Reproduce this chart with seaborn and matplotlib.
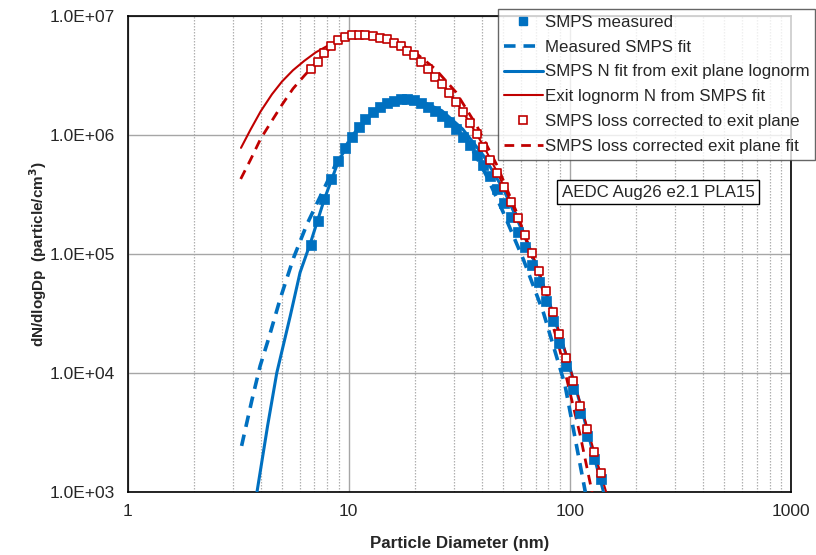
import numpy as np
import pandas as pd
import matplotlib
matplotlib.use("Agg")
import matplotlib.pyplot as plt
from matplotlib.ticker import LogLocator, FuncFormatter, NullLocator
from matplotlib.lines import Line2D
import seaborn as sns

# ---------------- data ----------------
diam = [6.73, 7.23, 7.77, 8.35, 8.98, 9.65, 10.4, 11.1, 11.9, 12.9, 13.8, 14.9,
        16.0, 17.2, 18.4, 19.8, 21.3, 22.9, 24.6, 26.4, 28.4, 30.5, 32.8, 35.2,
        37.9, 40.7, 43.7, 47.0, 50.5, 54.2, 58.3, 62.6, 67.3, 72.3, 77.7, 83.5,
        89.8, 96.5, 103.7, 111.4, 119.7, 128.6, 138.2]

smps_measured = [1.20e5, 1.89e5, 2.90e5, 4.27e5, 6.01e5, 7.78e5, 9.68e5, 1.17e6,
                 1.36e6, 1.55e6, 1.71e6, 1.85e6, 1.94e6, 2.00e6, 2.00e6, 1.97e6,
                 1.87e6, 1.73e6, 1.60e6, 1.44e6, 1.29e6, 1.12e6, 9.68e5, 8.19e5,
                 6.75e5, 5.56e5, 4.48e5, 3.50e5, 2.70e5, 2.05e5, 1.53e5, 1.14e5,
                 8.08e4, 5.79e4, 4.05e4, 2.73e4, 1.80e4, 1.15e4, 7.34e3, 4.58e3,
                 2.96e3, 1.90e3, 1.28e3]

smps_loss_corr = [3.56e6, 4.13e6, 4.86e6, 5.56e6, 6.25e6, 6.62e6, 6.92e6, 6.96e6,
                  6.92e6, 6.79e6, 6.57e6, 6.37e6, 5.97e6, 5.56e6, 5.11e6, 4.67e6,
                  4.08e6, 3.56e6, 3.09e6, 2.67e6, 2.27e6, 1.88e6, 1.56e6, 1.25e6,
                  1.01e6, 7.97e5, 6.20e5, 4.80e5, 3.64e5, 2.72e5, 2.01e5, 1.44e5,
                  1.02e5, 7.20e4, 4.92e4, 3.26e4, 2.11e4, 1.34e4, 8.51e3, 5.25e3,
                  3.38e3, 2.17e3, 1.45e3]

# Measured SMPS fit (blue dashed)
fit_meas_d = [3.28, 3.65, 3.98, 4.34, 4.90, 5.63, 6.47, 7.77, 8.98, 10.4, 12.9,
              16.0, 18.4, 21.3, 26.4, 32.8, 42.2, 50.2, 61.8, 76.1, 95.0, 117.5]
fit_meas_n = [2.44e3, 5.9e3, 1.15e4, 1.93e4, 4.19e4, 9.25e4, 1.77e5, 3.6e5, 6.3e5,
              9.9e5, 1.56e6, 1.95e6, 2.0e6, 1.9e6, 1.55e6, 1.07e6, 4.47e5, 2.2e5,
              8.9e4, 3.18e4, 8.0e3, 1.0e3]

# SMPS N fit from exit plane lognorm (blue solid)
fit_exit_smps_d = [3.85, 4.3, 4.73, 5.44, 6.03, 6.73, 7.77, 8.98, 10.4, 12.9, 16.0,
                   18.4, 21.3, 26.4, 32.8, 40.7, 50.5, 62.6, 77.7, 96.5, 111.4,
                   128.6, 142.0]
fit_exit_smps_n = [1.0e3, 3.6e3, 1.0e4, 3.0e4, 7.0e4, 1.25e5, 2.9e5, 6.0e5, 9.7e5,
                   1.55e6, 1.93e6, 2.0e6, 1.92e6, 1.6e6, 1.12e6, 6.7e5, 3.4e5, 1.4e5,
                   4.8e4, 1.4e4, 5.5e3, 2.0e3, 1.0e3]

# Exit lognorm N from SMPS fit (red solid)
exit_logn_d = [3.26, 3.6, 4.0, 4.5, 5.0, 5.6, 6.3, 7.1, 8.0, 8.98, 9.65, 10.4, 11.1,
               11.9, 12.9, 14.9, 17.2, 19.8, 22.9, 26.4, 30.5, 35.2, 40.7, 47.0,
               54.2, 62.6, 72.3, 83.5, 96.5, 111.4, 128.6, 146.0]
exit_logn_n = [7.8e5, 1.11e6, 1.58e6, 2.2e6, 2.82e6, 3.5e6, 4.2e6, 4.95e6, 5.6e6,
               6.2e6, 6.55e6, 6.85e6, 6.96e6, 6.97e6, 6.85e6, 6.4e6, 5.62e6, 4.7e6,
               3.62e6, 2.72e6, 1.92e6, 1.28e6, 8.1e5, 4.85e5, 2.75e5, 1.46e5, 7.3e4,
               3.35e4, 1.42e4, 5.6e3, 2.2e3, 1.0e3]

# SMPS loss corrected exit plane fit (red dashed)
fit_corr_d = [3.25, 3.6, 4.0, 4.5, 5.0, 5.6, 6.3, 6.73, 7.23, 7.77, 8.35, 8.98,
              9.65, 10.4, 11.1, 11.9, 13.8, 16.0, 19.8, 24.6, 30.5, 37.9, 47.0,
              58.3, 72.3, 89.8, 111.4, 126.0]
fit_corr_n = [4.27e5, 6.2e5, 9.3e5, 1.32e6, 1.8e6, 2.45e6, 3.15e6, 3.6e6, 4.15e6,
              4.8e6, 5.5e6, 6.15e6, 6.6e6, 6.88e6, 6.97e6, 6.95e6, 6.75e6, 6.2e6,
              5.0e6, 3.6e6, 2.3e6, 1.2e6, 5.5e5, 2.1e5, 6.5e4, 1.6e4, 3.0e3, 1.0e3]

BLUE = "#0070C0"
RED = "#C00000"

# ---------------- figure ----------------
sns.set_style("white")
plt.rcParams["font.family"] = ["Liberation Sans", "DejaVu Sans"]

fig = plt.figure(figsize=(8.16, 5.55), dpi=100)
ax = fig.add_axes([127.5 / 816, 1 - 492 / 555, (791 - 127.5) / 816, (492 - 16) / 555])
ax.set_xscale("log")
ax.set_yscale("log")
ax.set_xlim(1, 1000)
ax.set_ylim(1e3, 1e7)

sns.lineplot(x=fit_meas_d, y=fit_meas_n, ax=ax, color=BLUE, lw=2.6,
             sort=False, estimator=None, zorder=3, linestyle=(0, (3.2, 2.2)))
sns.lineplot(x=fit_exit_smps_d, y=fit_exit_smps_n, ax=ax, color=BLUE, lw=2.2,
             sort=False, estimator=None, zorder=3)
sns.lineplot(x=exit_logn_d, y=exit_logn_n, ax=ax, color=RED, lw=1.5,
             sort=False, estimator=None, zorder=3)
sns.lineplot(x=fit_corr_d, y=fit_corr_n, ax=ax, color=RED, lw=2.0,
             sort=False, estimator=None, zorder=3, linestyle=(0, (3.5, 2.5)))
sns.scatterplot(x=diam, y=smps_measured, ax=ax, marker="s", s=42, color=BLUE,
                edgecolor=BLUE, linewidth=0.5, zorder=4)
sns.scatterplot(x=diam, y=smps_loss_corr, ax=ax, marker="s", s=40,
                facecolor="white", edgecolor=RED, linewidth=1.2, zorder=5)

# axes styling
ax.xaxis.set_minor_locator(LogLocator(base=10, subs=np.arange(2, 10)))
ax.yaxis.set_minor_locator(NullLocator())
ax.grid(which="major", axis="both", color="#A6A6A6", lw=1.0, ls="-")
ax.grid(which="minor", axis="x", color="#B0B0B0", lw=0.9, ls=(0, (1.2, 1.2)))
ax.set_axisbelow(True)
ax.tick_params(which="minor", length=0)
ax.tick_params(which="major", length=5, width=1, color="black", direction="out",
               labelsize=12.5, pad=4)
ax.xaxis.set_major_formatter(FuncFormatter(lambda v, p: f"{v:g}"))
ax.yaxis.set_major_formatter(FuncFormatter(lambda v, p: f"{v:.1E}"))
for s in ax.spines.values():
    s.set_color("black")
    s.set_linewidth(1.2)

ax.set_xlabel("Particle Diameter (nm)", fontsize=12.2, fontweight="bold", labelpad=12)
ax.set_ylabel("dN/dlogDp  (particle/cm$^\\mathbf{3}$)", fontsize=11, fontweight="bold",
              va="center")
ax.yaxis.set_label_coords(-0.135, 0.5)

fig.text(658 / 816, 1 - 192 / 555, "AEDC Aug26 e2.1 PLA15", ha="center", va="center",
         fontsize=12.2,
         bbox=dict(boxstyle="square,pad=0.25", facecolor="white", edgecolor="black", lw=1))

handles = [
    Line2D([], [], ls="none", marker="s", ms=6, color=BLUE),
    Line2D([], [], color=BLUE, lw=2.6, ls=(0, (3.2, 2.2))),
    Line2D([], [], color=BLUE, lw=2.2),
    Line2D([], [], color=RED, lw=1.5),
    Line2D([], [], ls="none", marker="s", ms=6, mfc="white", mec=RED, mew=1.2),
    Line2D([], [], color=RED, lw=2.0, ls=(0, (3.5, 2.5))),
]
labels = ["SMPS measured", "Measured SMPS fit", "SMPS N fit from exit plane lognorm",
          "Exit lognorm N from SMPS fit", "SMPS loss corrected to exit plane",
          "SMPS loss corrected exit plane fit"]
leg = fig.legend(handles, labels, loc="upper right", bbox_to_anchor=(0.999, 0.984),
                 fontsize=12.2, frameon=True, fancybox=False, handlelength=2.3,
                 handletextpad=0.1, labelspacing=0.58, borderpad=0.35,
                 borderaxespad=0.0)
leg.get_frame().set_edgecolor("#404040")
leg.get_frame().set_linewidth(1.0)
leg.set_zorder(10)

fig.savefig("out.png", dpi=100, facecolor="white")
